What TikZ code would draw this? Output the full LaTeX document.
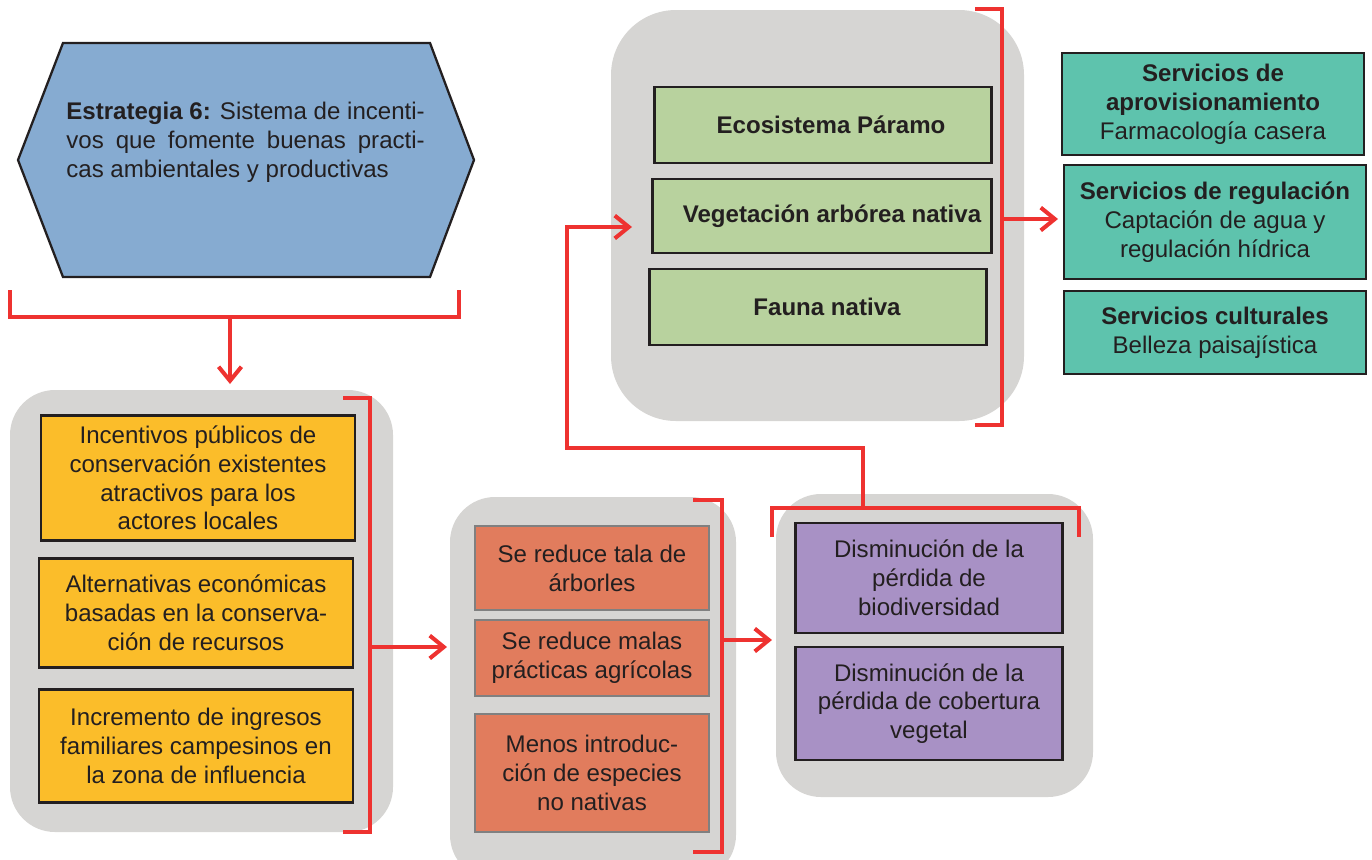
\documentclass[tikz,border=0pt]{standalone}
\usepackage{fontspec}
\setmainfont{Liberation Sans}
\usepackage{xcolor}
\usepackage{tikz}
\usetikzlibrary{positioning}
\usetikzlibrary{shapes, arrows.meta, positioning}

\definecolor{rojo}{RGB}{238,50,48}
\definecolor{tinta}{RGB}{35,31,32}
\definecolor{gris}{RGB}{214,213,211}
\definecolor{azul}{RGB}{134,171,209}
\definecolor{amarillo}{RGB}{251,189,42}
\definecolor{naranja}{RGB}{225,124,93}
\definecolor{morado}{RGB}{168,145,197}
\definecolor{verde}{RGB}{184,210,158}
\definecolor{turquesa}{RGB}{94,195,173}
\newcommand{\letra}{\fontsize{13.7}{16.4}\selectfont}

\begin{document}
\begin{tikzpicture}[x=0.02cm, y=-0.02cm,
    node distance = 4mm,% for distance between nodes
       caja/.style = {draw=tinta, line width=1.3pt, inner sep=0pt, outer sep=0pt, align=center, text=tinta, font=\letra},% nodes style
      panel/.style = {fill=gris, rounded corners=0.9cm},
   corchete/.style = {draw=rojo, line width=2.3pt, line join=miter},
     flecha/.style = {corchete, -{Straight Barb[length=8pt,width=13pt]}}
    ]
    \useasboundingbox (0,0) rectangle (1372,859);
    % gray panels
    \fill[panel] (10,390) rectangle (393,832);
    \fill[panel] (450,497) rectangle (736,880);
    \fill[panel] (776,494) rectangle (1093,797);
    \fill[panel, rounded corners=1.3cm] (611,10) rectangle (1024,421);
    % strategy
    \draw[draw=tinta, line width=1.3pt, fill=azul] (63,43) -- (430,43) -- (474,160) -- (430,277) -- (63,277) -- (18,160) -- cycle;
    \node (hex) [anchor=north west, inner sep=0pt, text width=7.17cm, align=justify, text=tinta, font=\letra] at (66,102)
        {\textbf{Estrategia 6:} Sistema de incenti-\linebreak vos que fomente buenas practi-\linebreak cas ambientales y productivas};
    % incentives
    \node (y1) [caja, fill=amarillo, minimum width=6.28cm, minimum height=2.5cm] at (198,478)
        {Incentivos públicos de\\conservación existentes\\atractivos para los\\actores locales};
    \node (y2) [caja, fill=amarillo, minimum width=6.28cm, minimum height=2.18cm, below=0.36cm of y1, xshift=-0.04cm]
        {Alternativas económicas\\basadas en la conserva-\\ción de recursos};
    \node (y3) [caja, fill=amarillo, minimum width=6.28cm, minimum height=2.26cm, below=0.44cm of y2]
        {Incremento de ingresos\\familiares campesinos en\\la zona de influencia};
    % reductions
    \node (o1) [caja, draw=gray, fill=naranja, minimum width=4.68cm, minimum height=1.68cm] at (592,568)
        {Se reduce tala de\\árborles};
    \node (o2) [caja, draw=gray, fill=naranja, minimum width=4.68cm, minimum height=1.52cm, below=0.2cm of o1]
        {Se reduce malas\\prácticas agrícolas};
    \node (o3) [caja, draw=gray, fill=naranja, minimum width=4.68cm, minimum height=2.36cm, below=0.36cm of o2]
        {Menos introduc-\\ción de especies\\no nativas};
    % results
    \node (p1) [caja, fill=morado, minimum width=5.34cm, minimum height=2.2cm] at (929,578)
        {Disminución de la\\pérdida de\\biodiversidad};
    \node (p2) [caja, fill=morado, minimum width=5.34cm, minimum height=2.26cm, below=0.28cm of p1]
        {Disminución de la\\pérdida de cobertura\\vegetal};
    % ecosystem
    \node (g1) [caja, fill=verde, minimum width=6.74cm, minimum height=1.52cm, font=\letra\bfseries] at (823,125)
        {\hspace{0.32cm}Ecosistema Páramo};
    \node (g2) [caja, fill=verde, minimum width=6.78cm, minimum height=1.48cm, font=\letra\bfseries, below=0.32cm of g1, xshift=-0.02cm]
        {\hspace{0.4cm}Vegetación arbórea nativa};
    \node (g3) [caja, fill=verde, minimum width=6.74cm, minimum height=1.52cm, font=\letra\bfseries, below=0.32cm of g2, xshift=-0.08cm]
        {\hspace{0.36cm}Fauna nativa};
    % services
    \node (s1) [caja, fill=turquesa, minimum width=6.04cm, minimum height=2.04cm] at (1213,104)
        {\textbf{Servicios de}\\\textbf{aprovisionamiento}\\Farmacología casera};
    \node (s2) [caja, fill=turquesa, minimum width=6.04cm, minimum height=2.28cm, below=0.2cm of s1, xshift=0.04cm]
        {\textbf{Servicios de regulación}\\Captación de agua y\\regulación hídrica};
    \node (s3) [caja, fill=turquesa, minimum width=6.04cm, minimum height=1.66cm, below=0.24cm of s2]
        {\textbf{Servicios culturales}\\Belleza paisajística};
    % brackets and arrows
    \coordinate (k1) at (230,317);
    \coordinate (k1e) at (230,384);
    \draw[corchete] (10,290) -- (10,317) -- (459,317) -- (459,290);
    \draw[flecha] (k1) -- (k1e);
    \coordinate (k2) at (370,647);
    \coordinate (k2e) at (447,647);
    \draw[corchete] (343,398) -- (370,398) -- (370,832) -- (343,832);
    \draw[flecha] (k2) -- (k2e);
    \coordinate (k3) at (722,640);
    \coordinate (k3e) at (772,640);
    \draw[corchete] (693,500) -- (722,500) -- (722,852) -- (693,852);
    \draw[flecha] (k3) -- (k3e);
    \coordinate (k4) at (863,508);
    \coordinate (k4e) at (632,227);
    \draw[corchete] (772,537) -- (772,508) -- (1079,508) -- (1079,537);
    \draw[flecha] (k4) -- (863,448) -- (567,448) -- (567,227) -- (k4e);
    \coordinate (k5) at (1002,219);
    \coordinate (k5e) at (1058,219);
    \draw[corchete] (975,9) -- (1002,9) -- (1002,425) -- (975,425);
    \draw[flecha] (k5) -- (k5e);
\end{tikzpicture}
\end{document}
